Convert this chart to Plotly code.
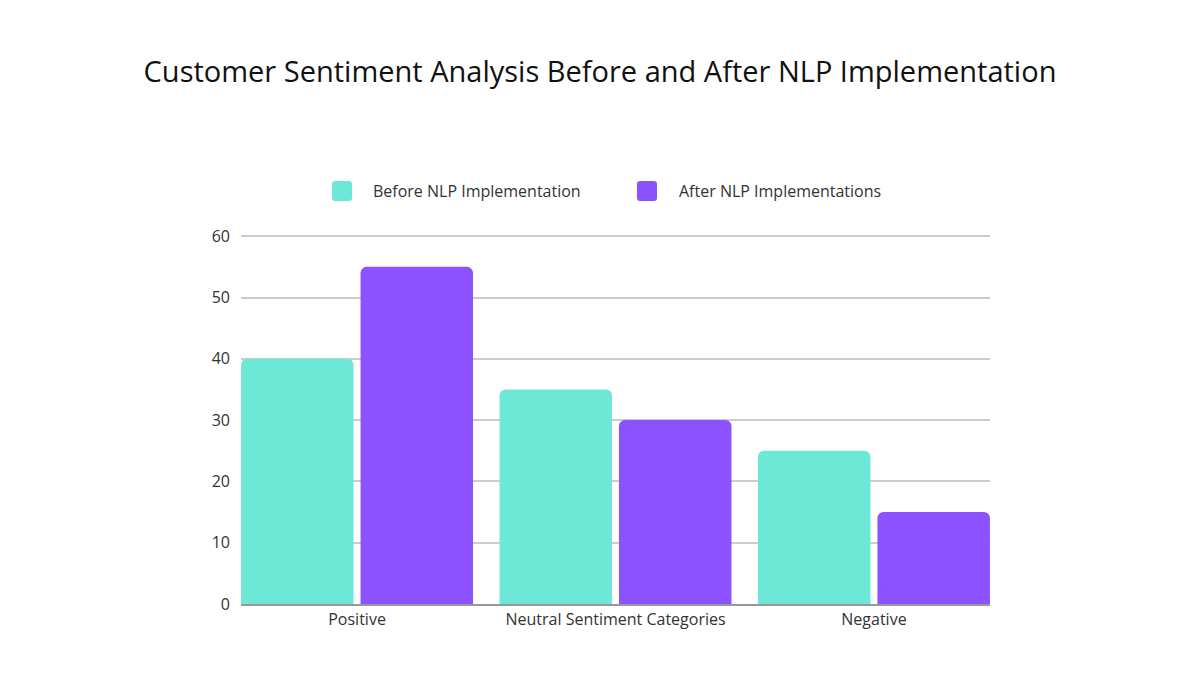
import plotly.graph_objects as go

categories = ["Positive", "Neutral Sentiment Categories", "Negative"]
before = [40, 35, 25]
after = [55, 30, 15]
series_names = ["Before NLP Implementation", "After NLP Implementations"]
y_ticks = [0, 10, 20, 30, 40, 50, 60]

TEAL = "#6EE8D6"
PURPLE = "#8C52FF"
FONT = "Open Sans"

W, H = 1200, 700
L, R, T, B = 233, 218, 227, 104
PW, PH = W - L - R, H - T - B


def px(x):
    return (x - L) / PW


def py(y):
    return (H - B - y) / PH


def rounded_square(x0, y0, size, r):
    # pixel coords (figure) -> paper path
    x1, y1 = x0 + size, y0 + size
    pts = [
        f"M {px(x0 + r)} {py(y0)}",
        f"L {px(x1 - r)} {py(y0)}",
        f"Q {px(x1)} {py(y0)} {px(x1)} {py(y0 + r)}",
        f"L {px(x1)} {py(y1 - r)}",
        f"Q {px(x1)} {py(y1)} {px(x1 - r)} {py(y1)}",
        f"L {px(x0 + r)} {py(y1)}",
        f"Q {px(x0)} {py(y1)} {px(x0)} {py(y1 - r)}",
        f"L {px(x0)} {py(y0 + r)}",
        f"Q {px(x0)} {py(y0)} {px(x0 + r)} {py(y0)}",
        "Z",
    ]
    return " ".join(pts)


fig = go.Figure()
fig.add_trace(go.Bar(x=categories, y=before, name=series_names[0], marker=dict(color=TEAL, line=dict(width=0))))
fig.add_trace(go.Bar(x=categories, y=after, name=series_names[1], marker=dict(color=PURPLE, line=dict(width=0))))

legend_items = [(324, 363, TEAL, series_names[0]), (629, 669, PURPLE, series_names[1])]
shapes = []
annotations = []
for mx, tx, col, name in legend_items:
    shapes.append(dict(type="path", xref="paper", yref="paper", path=rounded_square(mx, 173, 20, 3),
                       fillcolor=col, line=dict(width=0)))
    annotations.append(dict(text=name, xref="paper", yref="paper", x=px(tx), y=py(183),
                            xanchor="left", yanchor="middle", showarrow=False,
                            font=dict(family=FONT, size=16, color="#333333")))

fig.update_layout(
    width=W, height=H,
    paper_bgcolor="white", plot_bgcolor="white",
    margin=dict(l=L, r=R, t=T, b=B),
    barmode="group", bargap=0.0754, bargroupgap=0.0586,
    barcornerradius=6,
    showlegend=False,
    title=dict(text="Customer Sentiment Analysis Before and After NLP Implementation",
               x=592 / W, xanchor="center", y=1 - 64 / H, yanchor="middle",
               font=dict(family=FONT, size=29, color="#111111")),
    font=dict(family=FONT, size=16, color="#333333"),
    shapes=shapes,
    annotations=annotations,
    xaxis=dict(range=[-0.449, 2.449], showgrid=False, showline=True, linecolor="#999999", linewidth=2,
               ticks="", tickfont=dict(family=FONT, size=16, color="#333333")),
    yaxis=dict(range=[0, 60.2], tickvals=y_ticks, showgrid=True, gridcolor="#cccccc", gridwidth=1.5,
               zeroline=False, showline=False, ticks="", ticklabelstandoff=10,
               tickfont=dict(family=FONT, size=16, color="#333333")),
)

fig.write_html("out.html")
